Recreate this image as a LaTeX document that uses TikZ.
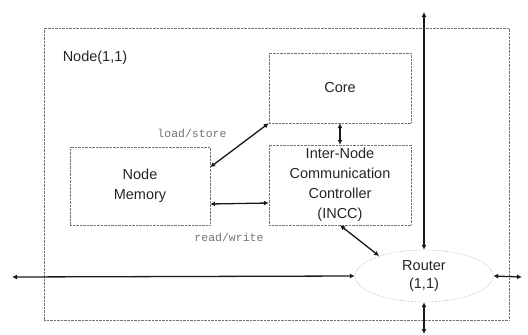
\documentclass[tikz,border=0pt]{standalone}
\usepackage{fontspec}
\setmainfont{Liberation Sans}
\setmonofont{Liberation Mono}
\usetikzlibrary{arrows.meta,shapes.geometric}

\begin{document}
\begin{tikzpicture}[x=1pt,y=-1pt,
  every node/.style={text=black!85,font=\fontsize{14.5}{20}\selectfont},
  unit/.style={draw=black!55,densely dotted,align=center,inner sep=0pt},
  lbl/.style={text=black!55,font=\ttfamily\fontsize{11.5}{13}\selectfont},
  link/.style={{Latex[length=5pt,width=5pt]}-{Latex[length=5pt,width=5pt]},line width=1.3pt,black!90}]

\useasboundingbox (0,0) rectangle (528,335);

\node[unit,minimum width=465,minimum height=292] (pe) at (276.5,174) {};
\node (pelbl) at (95,58) {Node(1,1)};

\node[unit,minimum width=142,minimum height=70] (core) at (340,88) {Core};
\node[unit,minimum width=142,minimum height=80] (incc) at (340,185) {Inter-Node\\Communication\\Controller\\(INCC)};
\node[unit,minimum width=140,minimum height=78] (mem) at (140,186) {Node\\Memory};

\node[unit,ellipse,minimum width=138,minimum height=52,font=\fontsize{14.5}{18}\selectfont] (router) at (424,276) {Router\\(1,1)};

\node[lbl] (ls) at (192,133) {load/store};
\node[lbl] (rw) at (229,237) {read/write};

\coordinate (north) at (424,12);
\coordinate (south) at (424,334);
\coordinate (west) at (12,277);
\coordinate (east) at (522,277);

\path[link] (north) edge (router.north) (south) edge (router.south) (west) edge (router.west) (east) edge (router.east) (core.south) edge (incc.north) (core.south west) edge (mem.15) ([yshift=-18pt]mem.east) edge ([yshift=-18pt]incc.west) (incc.south) edge (router.156);

\end{tikzpicture}
\end{document}
